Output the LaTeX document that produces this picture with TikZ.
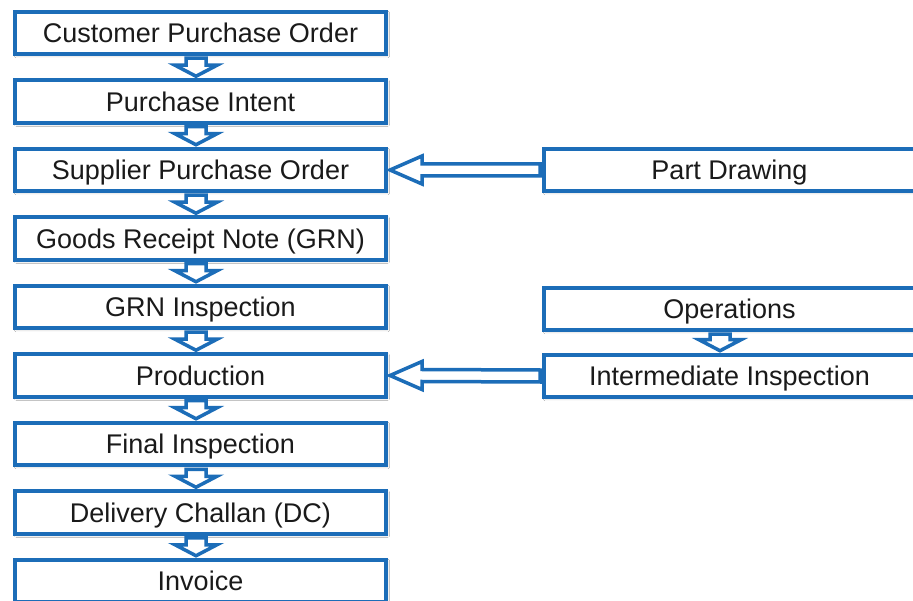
\documentclass[tikz,border=0pt]{standalone}
\usepackage{fontspec}
\setmainfont{Liberation Sans}
\usetikzlibrary{calc,shadows.blur}
\definecolor{boxblue}{HTML}{1C6DB8}
\definecolor{txt}{HTML}{1A1A1A}
\newcommand{\downarr}[3]{%
  \draw[arr] ($(#1.south)+(#3-10,2)$) -- ($(#2.north)+(#3-10,-13)$)
    -- ($(#2.north)+(#3-21,-13)$) -- ($(#2.north)+(#3,-2)$)
    -- ($(#2.north)+(#3+21,-13)$) -- ($(#2.north)+(#3+10,-13)$)
    -- ($(#1.south)+(#3+10,2)$) -- cycle;}
\newcommand{\leftarr}[2]{%
  \draw[arr] ($(#1.west)+(-2,-6)$) -- ($(#2.east)+(34,-6)$)
    -- ($(#2.east)+(34,-14)$) -- ($(#2.east)+(2,0)$)
    -- ($(#2.east)+(34,14)$) -- ($(#2.east)+(34,6)$)
    -- ($(#1.west)+(-2,6)$) -- cycle;}
\begin{document}
\begin{tikzpicture}[x=1pt,y=-1pt,
  box/.style={draw=boxblue, line width=4pt, fill=white, minimum width=371pt,
    minimum height=42.5pt, inner sep=0pt, text=txt,
    font=\fontsize{27}{32}\selectfont, text height=24.3pt, text depth=5pt,
    blur shadow={shadow xshift=1.5pt, shadow yshift=-1.5pt, shadow blur steps=4, shadow opacity=25}},
  arr/.style={draw=boxblue, line width=3.5pt, fill=white}]
\fill[white] (0,0) rectangle (913,601);
\useasboundingbox (0,0) rectangle (913,601);
\node[box] (n1) at (200.5,33) {Customer Purchase Order};
\node[box] (n2) at (200.5,101.5) {Purchase Intent};
\node[box] (n3) at (200.5,170) {Supplier Purchase Order};
\node[box] (n4) at (200.5,238.5) {Goods Receipt Note (GRN)};
\node[box] (n5) at (200.5,307) {GRN Inspection};
\node[box] (n6) at (200.5,375.5) {Production};
\node[box] (n7) at (200.5,444) {Final Inspection};
\node[box] (n8) at (200.5,512.5) {Delivery Challan (DC)};
\node[box] (n9) at (200.5,581) {Invoice};
\node[box] (pd) at (729.5,170) {Part Drawing};
\node[box] (op) at (729.5,309) {Operations};
\node[box] (ii) at (729.5,376) {Intermediate Inspection};
\downarr{n1}{n2}{-4.5}
\downarr{n2}{n3}{-4.5}
\downarr{n3}{n4}{-4.5}
\downarr{n4}{n5}{-4.5}
\downarr{n5}{n6}{-4.5}
\downarr{n6}{n7}{-4.5}
\downarr{n7}{n8}{-4.5}
\downarr{n8}{n9}{-4.5}
\downarr{op}{ii}{-9.5}
\leftarr{pd}{n3}
\leftarr{ii}{n6}
\end{tikzpicture}
\end{document}
